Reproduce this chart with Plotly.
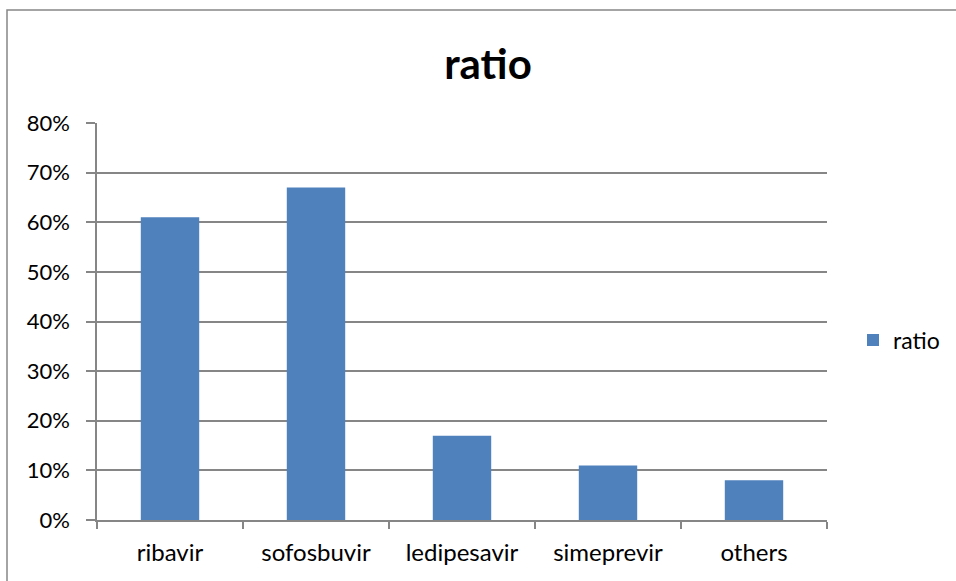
import plotly.graph_objects as go

categories = ["ribavir", "sofosbuvir", "ledipesavir", "simeprevir", "others"]
ratio = [0.61, 0.67, 0.17, 0.11, 0.08]

FONT = "Lato, 'Open Sans', sans-serif"
GRID = "#868686"
BAR = "#4F81BD"

W, H = 956, 581
ML, MR, MT, MB = 97, 129, 123, 61
pw, ph = W - ML - MR, H - MT - MB

fig = go.Figure(
    go.Bar(
        x=categories,
        y=ratio,
        name="ratio",
        marker=dict(color=BAR, line=dict(width=0)),
        width=0.4,
        showlegend=True,
    )
)

# outer chart frame (extends past the right and bottom edges)
fx0 = (7 - ML) / pw
fy1 = 1 + (MT - 10) / ph
fig.add_shape(
    type="rect", xref="paper", yref="paper",
    x0=fx0, x1=1.5, y0=-0.5, y1=fy1,
    line=dict(color=GRID, width=1.5), fillcolor="rgba(0,0,0,0)", layer="below",
)

fig.update_layout(
    width=W, height=H,
    autosize=False,
    margin=dict(l=ML, r=MR, t=MT, b=MB, autoexpand=False),
    paper_bgcolor="white", plot_bgcolor="white",
    font=dict(family=FONT, size=22, color="black"),
    title=dict(
        text="<b>ratio</b>", x=(488 - ML) / pw, xref="paper", xanchor="center",
        y=1 - 64 / H, yanchor="middle", yref="container",
        font=dict(size=42, family=FONT, color="black"),
        automargin=False,
    ),
    bargap=0.6,
    legend=dict(
        x=853 / W, xref="container", xanchor="left",
        y=1 - 340 / H, yref="container", yanchor="middle",
        font=dict(size=23, family=FONT), bgcolor="rgba(0,0,0,0)",
        itemwidth=30,
    ),
    xaxis=dict(
        showline=True, linecolor=GRID, linewidth=1.5,
        ticks="outside", tickson="boundaries", ticklen=7, tickcolor=GRID, tickwidth=1.5,
        showgrid=False, ticklabelstandoff=10, automargin=False,
        tickfont=dict(size=24),
    ),
    yaxis=dict(
        range=[0, 0.8], dtick=0.1, tickformat=".0%",
        showline=True, linecolor=GRID, linewidth=1.5,
        showgrid=True, gridcolor=GRID, gridwidth=1.5,
        ticks="outside", ticklen=9, tickcolor=GRID, tickwidth=1.5,
        zeroline=False, ticklabelstandoff=12, automargin=False,
        tickfont=dict(size=22),
    ),
)

fig.write_html("out.html")
